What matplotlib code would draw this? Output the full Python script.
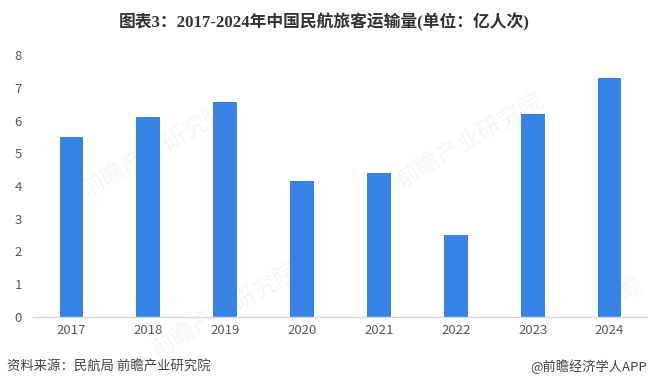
import matplotlib
matplotlib.use('Agg')
import matplotlib.pyplot as plt

plt.rcParams['font.family'] = ['Noto Sans CJK SC', 'DejaVu Sans']

years = ['2017', '2018', '2019', '2020', '2021', '2022', '2023', '2024']
passengers = [5.5, 6.12, 6.58, 4.16, 4.4, 2.5, 6.19, 7.29]
y_ticks = [0, 1, 2, 3, 4, 5, 6, 7, 8]

W, H = 648, 388
fig = plt.figure(figsize=(W / 100, H / 100), dpi=100)

# Axes box in pixels: baseline at y=317, 8 at y=55.
ax = fig.add_axes([33 / W, 1 - 317 / H, 615 / W, 262 / H], zorder=1)
ax.patch.set_visible(False)

ax.bar(years, passengers, width=0.31, color='#3682E5')
ax.set_xlim(-0.5, 7.5)
ax.set_ylim(0, 8)
ax.set_yticks(y_ticks)

for side in ['top', 'right', 'left']:
    ax.spines[side].set_visible(False)
ax.spines['bottom'].set_color('#D9D9D9')
ax.spines['bottom'].set_linewidth(1.0)
ax.tick_params(axis='both', length=0, labelsize=9.5, labelcolor='#595959')
ax.tick_params(axis='x', pad=5)
ax.tick_params(axis='y', pad=8)

# Title, digits in a serif bold.
fig.text(324 / W, 1 - 22 / H, '图表3：2017-2024年中国民航旅客运输量(单位：亿人次)',
         family=['Liberation Serif', 'Noto Sans CJK SC'], fontweight='bold',
         fontsize=12.1, color='#333333', ha='center', va='center')

# Footer.
fig.text(7 / W, 1 - 367 / H, '资料来源：民航局 前瞻产业研究院', fontsize=9.6,
         color='#444444', ha='left', va='center')
fig.text(647 / W, 1 - 367 / H, '@前瞻经济学人APP', fontsize=9.5,
         color='#444444', ha='right', va='center')

# Faint watermarks behind the bars.
marks = [('前瞻产业研究院', 155, 150), ('前瞻产业研究院', 470, 140),
         ('前瞻产业研究院', 225, 310), ('前瞻', 622, 295)]
for label, px, py in marks:
    fig.text(px / W, 1 - py / H, label, fontsize=17, color='#F3F5F8',
             rotation=30, ha='center', va='center', zorder=0)

fig.savefig('out.png', dpi=100)
